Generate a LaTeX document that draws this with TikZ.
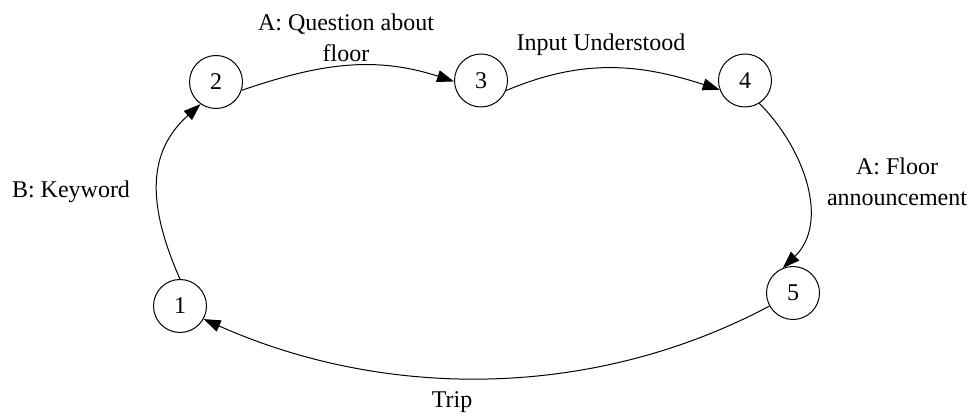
\documentclass[tikz,border=0pt]{standalone}
\usepackage{fontspec}
\setmainfont{Liberation Serif}
\usetikzlibrary{arrows.meta}

\begin{document}
\begin{tikzpicture}[
    x=0.5pt, y=0.5pt,
    >={Triangle[length=8.5pt,width=6pt]},
    font=\fontsize{12}{15.5}\selectfont,
    state/.style={circle, draw, line width=0.5pt, minimum size=26.5pt, inner sep=0pt},
    lbl/.style={align=center, inner sep=0pt},
    arr/.style={->, line width=0.5pt},
  ]
\useasboundingbox (0,0) rectangle (973,417);

% States
\node[state] (s1) at (180,111) {1};
\node[state] (s2) at (216,335) {2};
\node[state] (s3) at (481,336.5) {3};
\node[state] (s4) at (745,336.5) {4};
\node[state] (s5) at (793,124) {5};

% Edge labels
\node[lbl] (lkey)  at (71,225)   {B: Keyword};
\node[lbl] (lques) at (346,379.5) {A: Question about\\floor};
\node[lbl] (linp)  at (601,372)  {Input Understood};
\node[lbl] (lann)  at (897,235)  {A: Floor\\announcement};
\node[lbl] (ltrip) at (452,15)   {Trip};

% Transitions
\draw[arr] (s1.90) to[out=114, in=222, out looseness=1.4, in looseness=0.9] (s2.235);
\draw[arr] (s2.-18) to[out=19, in=162] (s3.182);
\draw[arr] (s3.-22) to[out=23, in=162] (s4.200);
\draw[arr] (s4.-58) to[out=-45, in=44] (s5.112);
\draw[arr] (s5.209) to[out=208, in=336, looseness=0.9] (s1.-29);

\end{tikzpicture}
\end{document}
